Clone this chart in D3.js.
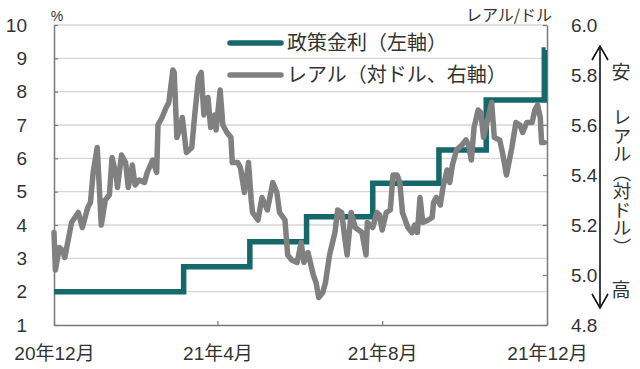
<!DOCTYPE html>
<html><head><meta charset="utf-8">
<script src="https://cdn.jsdelivr.net/npm/d3@7"></script>
<style>
html,body{margin:0;padding:0;background:#fff;}
svg{display:block;}
text{fill:#333;}
</style></head>
<body>
<svg id="chart" width="640" height="369"></svg>
<script>
// ---- data ----
const brlDates = ["2020-12-10","2020-12-11","2020-12-14","2020-12-16","2020-12-18","2020-12-23","2020-12-28","2020-12-31",
"2021-01-04","2021-01-06","2021-01-08","2021-01-11","2021-01-14","2021-01-17","2021-01-20","2021-01-22","2021-01-25","2021-01-26","2021-01-29",
"2021-02-01","2021-02-03","2021-02-06","2021-02-08","2021-02-11","2021-02-15","2021-02-17","2021-02-21","2021-02-24","2021-02-25","2021-02-28",
"2021-03-03","2021-03-05","2021-03-08","2021-03-09","2021-03-11","2021-03-14","2021-03-15","2021-03-18","2021-03-22","2021-03-24","2021-03-27","2021-03-29","2021-03-31",
"2021-04-03","2021-04-05","2021-04-08","2021-04-09","2021-04-12","2021-04-14","2021-04-17","2021-04-20","2021-04-21","2021-04-25","2021-04-27","2021-04-30",
"2021-05-03","2021-05-05","2021-05-06","2021-05-10","2021-05-13","2021-05-17","2021-05-21","2021-05-24","2021-05-26","2021-05-30",
"2021-06-01","2021-06-04","2021-06-08","2021-06-11","2021-06-13","2021-06-16","2021-06-20","2021-06-22","2021-06-24","2021-06-27","2021-06-29",
"2021-07-02","2021-07-06","2021-07-08","2021-07-11","2021-07-13","2021-07-15","2021-07-18","2021-07-21","2021-07-26","2021-07-29","2021-07-30",
"2021-08-03","2021-08-06","2021-08-08","2021-08-10","2021-08-13","2021-08-16","2021-08-18","2021-08-21","2021-08-23","2021-08-25","2021-08-29",
"2021-09-01","2021-09-03","2021-09-05","2021-09-07","2021-09-09","2021-09-13","2021-09-16","2021-09-17","2021-09-19","2021-09-22","2021-09-24","2021-09-27","2021-09-29",
"2021-10-01","2021-10-04","2021-10-08","2021-10-11","2021-10-13","2021-10-15","2021-10-17","2021-10-20","2021-10-22","2021-10-24","2021-10-27","2021-10-30",
"2021-11-01","2021-11-05","2021-11-07","2021-11-10","2021-11-14","2021-11-17","2021-11-20","2021-11-22","2021-11-25","2021-11-29",
"2021-12-01","2021-12-03","2021-12-05","2021-12-06","2021-12-08"];
const brlValues = [5.17,5.02,5.11,5.10,5.07,5.21,5.25,5.19,
5.27,5.29,5.41,5.51,5.20,5.30,5.32,5.47,5.40,5.35,5.48,
5.45,5.35,5.44,5.36,5.38,5.37,5.41,5.46,5.41,5.60,5.63,
5.67,5.69,5.82,5.81,5.55,5.60,5.63,5.49,5.51,5.63,5.79,5.81,5.64,
5.71,5.59,5.64,5.58,5.74,5.60,5.57,5.55,5.45,5.45,5.43,5.33,
5.45,5.30,5.25,5.22,5.31,5.26,5.37,5.33,5.25,5.22,
5.08,5.06,5.05,5.13,5.05,5.09,5.00,4.97,4.91,4.93,4.97,
5.08,5.17,5.26,5.25,5.16,5.08,5.25,5.19,5.17,5.08,5.21,
5.19,5.25,5.24,5.18,5.25,5.26,5.40,5.40,5.37,5.25,5.19,
5.17,5.20,5.17,5.31,5.21,5.22,5.23,5.29,5.31,5.28,5.35,5.42,5.37,
5.44,5.50,5.52,5.54,5.52,5.46,5.59,5.66,5.65,5.55,5.62,5.69,
5.55,5.54,5.49,5.40,5.51,5.61,5.60,5.57,5.61,5.61,
5.66,5.68,5.63,5.53,5.53];

const selicDates = ["2020-12-10","2021-03-16","2021-05-04","2021-06-15","2021-08-03","2021-09-21","2021-10-26","2021-12-08","2021-12-09"];
const selicValues = [2.0,2.75,3.5,4.25,5.25,6.25,7.75,9.25,9.25];

const leftTicks = [1,2,3,4,5,6,7,8,9,10];
const rightTicks = [4.8,5.0,5.2,5.4,5.6,5.8,6.0];
const xTickDates = ["2020-12-10","2021-04-10","2021-08-10","2021-12-10"];
const xTickLabels = ["20年12月","21年4月","21年8月","21年12月"];
const legendLabels = ["政策金利（左軸）","レアル（対ドル、右軸）"];

// ---- setup ----
const parse = d3.timeParse("%Y-%m-%d");
const svg = d3.select("#chart");
const L = 54, R = 547, T = 25, B = 325;
const x = d3.scaleTime().domain([parse("2020-12-10"), parse("2021-12-10")]).range([L, R]);
const yL = d3.scaleLinear().domain([1, 10]).range([B, T]);
const yR = d3.scaleLinear().domain([4.8, 6.0]).range([B, T]);
const numFont = "'Liberation Sans', Arial, sans-serif";
const jpFont = "'Liberation Sans', 'Noto Sans CJK JP', sans-serif";
const teal = "#17686a", grey = "#808080", axisCol = "#7a7a7a";

// gridlines
svg.append("g").selectAll("line").data(leftTicks.filter(d => d > 1)).join("line")
  .attr("x1", L).attr("x2", R).attr("y1", d => yL(d)).attr("y2", d => yL(d))
  .attr("stroke", "#d6d6d6").attr("stroke-width", 1.3);

// axes
const axL = svg.append("g").attr("transform", `translate(${L},0)`)
  .call(d3.axisLeft(yL).tickValues(leftTicks).tickSizeInner(-4).tickSizeOuter(0).tickPadding(27).tickFormat(d3.format("d")));
const axR = svg.append("g").attr("transform", `translate(${R},0)`)
  .call(d3.axisRight(yR).tickValues(rightTicks).tickSizeInner(-4).tickSizeOuter(0).tickPadding(24).tickFormat(d3.format(".1f")));
const axB = svg.append("g").attr("transform", `translate(0,${B})`)
  .call(d3.axisBottom(x).tickValues(xTickDates.map(parse)).tickSizeInner(-4).tickSizeOuter(0).tickPadding(22)
    .tickFormat((d, i) => xTickLabels[i]));
[axL, axR, axB].forEach(a => {
  a.select(".domain").attr("stroke", axisCol).attr("stroke-width", 1.5);
  a.selectAll(".tick line").attr("stroke", axisCol).attr("stroke-width", 1.2);
  a.selectAll("text").attr("fill", "#333").style("font-size", "19px").style("font-family", numFont);
});
axB.selectAll("text").style("font-family", jpFont);

// lines
const selicData = selicDates.map((d, i) => ({ d: parse(d), v: selicValues[i] }));
const brlData = brlDates.map((d, i) => ({ d: parse(d), v: brlValues[i] }));
svg.append("path").datum(selicData)
  .attr("d", d3.line().x(d => x(d.d)).y(d => yL(d.v)).curve(d3.curveStepAfter))
  .attr("fill", "none").attr("stroke", teal).attr("stroke-width", 5.5).attr("stroke-linejoin", "miter");
svg.append("path").datum(brlData)
  .attr("d", d3.line().x(d => x(d.d)).y(d => yR(d.v)))
  .attr("fill", "none").attr("stroke", grey).attr("stroke-width", 5.5).attr("stroke-linejoin", "round").attr("stroke-linecap", "round");

// legend
const legend = svg.append("g");
[teal, grey].forEach((c, i) => {
  const yy = 43 + i * 32;
  legend.append("line").attr("x1", 230).attr("x2", 281).attr("y1", yy).attr("y2", yy)
    .attr("stroke", c).attr("stroke-width", 5.5).attr("stroke-linecap", "round");
  legend.append("text").attr("x", 287).attr("y", yy).attr("dy", "0.36em")
    .style("font-family", "'Noto Sans CJK JP', sans-serif").style("font-size", "20px").text(legendLabels[i]);
});

// unit labels
svg.append("text").attr("x", 57).attr("y", 21).attr("text-anchor", "middle")
  .style("font-family", numFont).style("font-size", "14px").text("%");
svg.append("text").attr("x", 466).attr("y", 21)
  .style("font-family", "'Noto Sans CJK JP', sans-serif").style("font-size", "16px").text("レアル/ドル");

// arrow annotation
const ann = svg.append("g").attr("stroke", "#111").attr("stroke-width", 1.6).attr("fill", "none");
ann.append("line").attr("x1", 600).attr("x2", 600).attr("y1", 46).attr("y2", 308);
ann.append("polyline").attr("points", "592,60 600,46 608,60");
ann.append("polyline").attr("points", "592,294 600,308 608,294");
svg.append("text").attr("x", 621).attr("y", 72).attr("text-anchor", "middle").attr("dy", "0.35em")
  .style("font-family", "'Noto Sans CJK JP', sans-serif").style("font-size", "19px").text("安");
svg.append("text").attr("x", 621).attr("y", 290).attr("text-anchor", "middle").attr("dy", "0.35em")
  .style("font-family", "'Noto Sans CJK JP', sans-serif").style("font-size", "19px").text("高");
svg.append("text").attr("x", 622).attr("y", 108)
  .style("writing-mode", "vertical-rl").style("text-orientation", "mixed")
  .style("font-family", "'Noto Sans CJK JP', sans-serif").style("font-size", "18.5px").text("レアル（対ドル）");
</script>
</body></html>
